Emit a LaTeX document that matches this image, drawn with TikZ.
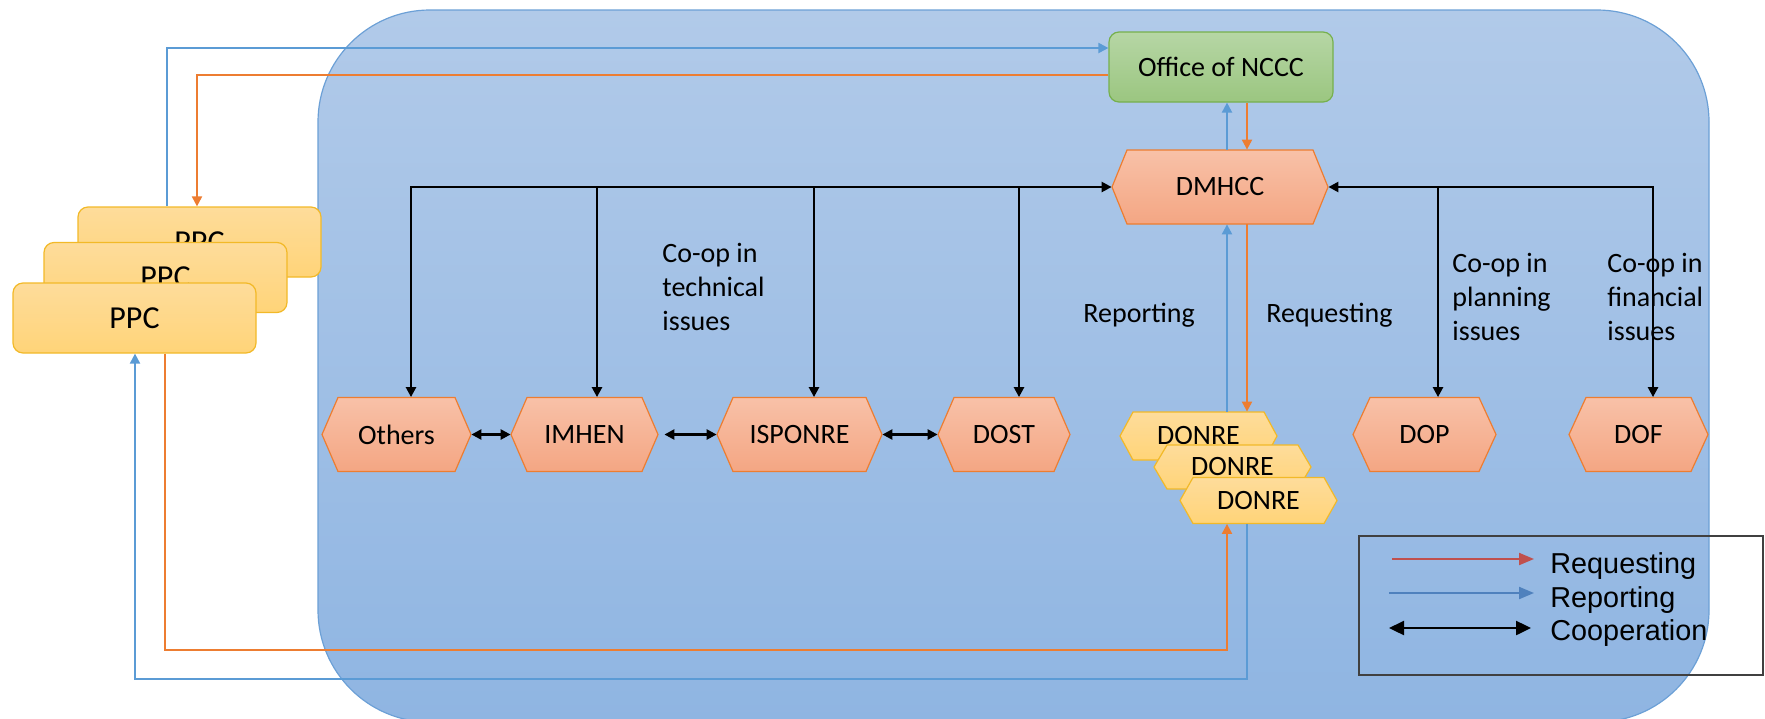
\documentclass[tikz,border=0pt]{standalone}
\usepackage{fontspec}
\setmainfont{Carlito}
\newfontfamily\arialf{Liberation Sans}
\usetikzlibrary{arrows.meta}
\definecolor{bigtop}{RGB}{177,202,233}
\definecolor{bigbot}{RGB}{143,181,226}
\definecolor{bigline}{RGB}{108,160,214}
\definecolor{hextop}{RGB}{248,193,168}
\definecolor{hexbot}{RGB}{244,166,131}
\definecolor{hexline}{RGB}{237,125,49}
\definecolor{yeltop}{RGB}{254,220,155}
\definecolor{yelbot}{RGB}{255,212,120}
\definecolor{yelline}{RGB}{242,185,40}
\definecolor{grntop}{RGB}{182,214,165}
\definecolor{grnbot}{RGB}{155,198,128}
\definecolor{grnline}{RGB}{118,176,77}
\definecolor{repc}{RGB}{91,155,213}
\definecolor{reqc}{RGB}{237,125,49}
\definecolor{legred}{RGB}{192,80,77}
\definecolor{legblue}{RGB}{79,129,189}
\tikzset{
  lbl/.style={font=\fontsize{14pt}{17pt}\selectfont},
  hexo/.style={draw=hexline, line width=0.6pt, top color=hextop, bottom color=hexbot},
  hexy/.style={draw=yelline, line width=0.6pt, top color=yeltop, bottom color=yelbot},
  ppcbox/.style={draw=yelline, line width=0.6pt, top color=yeltop, bottom color=yelbot,
    rounded corners=5pt, minimum width=121.5pt, minimum height=35pt, inner sep=0pt,
    font=\fontsize{16pt}{19pt}\selectfont},
  officebox/.style={draw=grnline, line width=0.6pt, top color=grntop, bottom color=grnbot,
    rounded corners=5pt, minimum width=112pt, minimum height=35pt, inner sep=0pt,
    font=\fontsize{14pt}{17pt}\selectfont},
  rep/.style={draw=repc, line width=1pt, ->},
  req/.style={draw=reqc, line width=1pt, ->},
  coop/.style={draw=black, line width=1.2pt},
  legtxt/.style={font=\arialf\fontsize{14.4pt}{17pt}\selectfont, anchor=base west, inner sep=0pt},
  multi/.style={lbl, align=left, anchor=base west, inner sep=0pt},
}
\newcommand\hexnode[8]{%
  \path[#7] ({#2-#4},#3) -- ({#2-#4+#6},{#3-#5}) -- ({#2+#4-#6},{#3-#5}) -- ({#2+#4},#3)
     -- ({#2+#4-#6},{#3+#5}) -- ({#2-#4+#6},{#3+#5}) -- cycle;
  \node[inner sep=0pt, minimum width=#4pt, minimum height=#5pt, lbl] (#1) at (#2,#3) {#8};
}
\begin{document}
\begin{tikzpicture}[x=0.5pt, y=-0.5pt, >={Triangle[length=5pt,width=5pt]}]
\useasboundingbox (0,0) rectangle (1765,718);
\clip (0,0) rectangle (1765,718);
% big container
\draw[draw=bigline, line width=0.6pt, top color=bigtop, bottom color=bigbot, rounded corners=56pt]
  (318,10) rectangle (1709,722);
% PPC stack
\node[ppcbox] (PPC3) at (199.5,242) {PPC};
\node[ppcbox] (PPC2) at (165.5,277.5) {PPC};
\node[ppcbox] (PPC1) at (134.5,318) {PPC};
% office
\node[officebox] (Office) at (1221,67) {Office of NCCC};
% hexagons
\hexnode{DMHCC}{1220}{187}{108}{37}{15}{hexo}{DMHCC}
\hexnode{Others}{396.5}{434.5}{74.5}{37}{16}{hexo}{Others}
\hexnode{IMHEN}{584.5}{434.5}{73.5}{37}{16}{hexo}{IMHEN}
\hexnode{ISPONRE}{799.5}{434.5}{82.5}{37}{16}{hexo}{ISPONRE}
\hexnode{DOST}{1004}{434.5}{66}{37}{16}{hexo}{DOST}
\hexnode{DOP}{1424.5}{434.5}{71.5}{37}{17}{hexo}{DOP}
\hexnode{DOF}{1638.5}{434.5}{69.5}{37}{17}{hexo}{DOF}
\hexnode{DONRE1}{1198.5}{436}{78.5}{24}{13}{hexy}{DONRE}
\hexnode{DONRE2}{1232.5}{467}{78.5}{22}{13}{hexy}{DONRE}
\hexnode{DONRE3}{1258.5}{500.5}{78.5}{23}{13}{hexy}{DONRE}
% routing coordinates
\coordinate (c1) at (167,48);
\coordinate (c2) at (197,75);
\coordinate (c3) at (1247,679);
\coordinate (c4) at (135,679);
\coordinate (c5) at (165,650);
\coordinate (c6) at (1227,650);
\coordinate (k1) at (411,187);
\coordinate (k2) at (597,187);
\coordinate (k3) at (814,187);
\coordinate (k4) at (1019,187);
\coordinate (k5) at (1653,187);
\coordinate (k6) at (1438,187);
% reporting (blue)
\draw[rep] (PPC3.north -| c1) |- (Office.west |- c1);
\draw[rep] (DMHCC.north -| c6) -- (Office.south -| c6);
\draw[rep] (DONRE1.north -| c6) -- (DMHCC.south -| c6);
\draw[rep] (DONRE3.south -| c3) -- (c3) -- (c4) -- (PPC1.south -| c4);
% requesting (orange)
\draw[req] (Office.west |- c2) -| (PPC3.north -| c2);
\draw[req] (Office.south -| c3) -- (DMHCC.north -| c3);
\draw[req] (DMHCC.south -| c3) -- (DONRE1.north -| c3);
\draw[req] (PPC1.south -| c5) -- (c5) -- (c6) -- (DONRE3.south -| c6);
% cooperation (black)
\draw[coop,<->] (Others.north -| k1) |- (DMHCC.west);
\draw[coop,->] (k2) -- (IMHEN.north -| k2);
\draw[coop,->] (k3) -- (ISPONRE.north -| k3);
\draw[coop,->] (k4) -- (DOST.north -| k4);
\draw[coop,<->] (DOF.north -| k5) |- (DMHCC.east);
\draw[coop,->] (k6) -- (DOP.north -| k6);
\draw[coop,<->] (Others.east) -- (IMHEN.west);
\draw[coop,<->] ([xshift=3pt]IMHEN.east) -- (ISPONRE.west);
\draw[coop,<->] (ISPONRE.east) -- (DOST.west);
% labels
\node[multi] (ltech) at (662,330) {Co-op in\\technical\\issues};
\node[multi] (lplan) at (1452,340) {Co-op in\\planning\\issues};
\node[multi] (lfin) at (1607,340) {Co-op in\\financial\\issues};
\node[lbl, anchor=base west, inner sep=0pt] (lrep) at (1083,322) {Reporting};
\node[lbl, anchor=base west, inner sep=0pt] (lreq) at (1266,322) {Requesting};
% legend
\draw[draw=black!75, line width=0.8pt] (1359,536) rectangle (1763,675);
\coordinate (la1) at (1392,559); \coordinate (lb1) at (1534,559);
\coordinate (la2) at (1389,593); \coordinate (lb2) at (1534,593);
\coordinate (la3) at (1389,628); \coordinate (lb3) at (1531,628);
\draw[draw=legred, line width=1pt, -{Triangle[length=7.5pt,width=6pt]}] (la1) -- (lb1);
\draw[draw=legblue, line width=1pt, -{Triangle[length=7.5pt,width=6pt]}] (la2) -- (lb2);
\draw[draw=black, line width=1.2pt, {Triangle[length=7.5pt,width=7pt]}-{Triangle[length=7.5pt,width=7pt]}] (la3) -- (lb3);
\node[legtxt] (t1) at (1550,573) {Requesting};
\node[legtxt] (t2) at (1550,607) {Reporting};
\node[legtxt] (t3) at (1550,640) {Cooperation};
\end{tikzpicture}
\end{document}
